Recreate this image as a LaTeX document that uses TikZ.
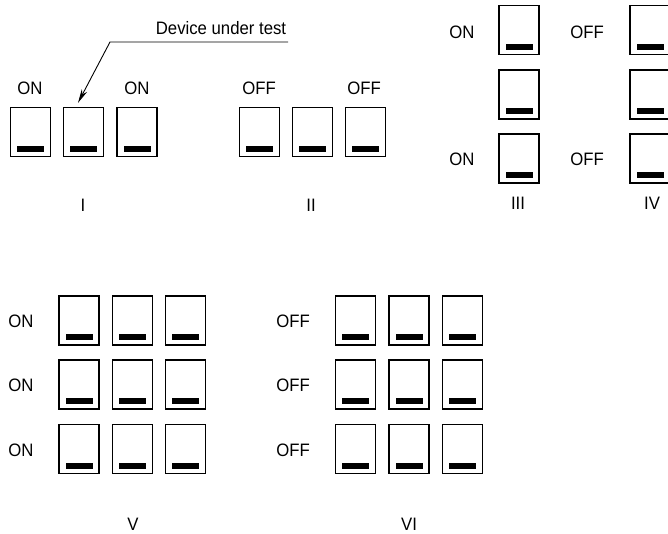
\documentclass[tikz,border=0pt]{standalone}
\usepackage{fontspec}
\setmainfont{Liberation Sans}[FakeStretch=0.93]
\usetikzlibrary{arrows.meta,calc}
\tikzset{
  sw/.style={draw, line width=1.3pt, minimum width=40pt, minimum height=49pt, inner sep=0pt,
    path picture={\fill[black] ([xshift=-13.5pt,yshift=5pt]path picture bounding box.south) rectangle ([xshift=13.5pt,yshift=11pt]path picture bounding box.south);}},
  lbl/.style={font=\fontsize{18}{20}\selectfont, inner sep=0pt},
  lead/.style={line width=0.9pt}
}
\begin{document}
\begin{tikzpicture}[x=1pt,y=-1pt]
\useasboundingbox (0,0) rectangle (668,533);
\fill[white] (0,0) rectangle (668,533);
\clip (0,0) rectangle (668,533);
% Group I
\node[sw] (a1) at (30.5,132) {};
\node[sw] (a2) at (83.5,132) {};
\node[sw] (a3) at (137,132) {};
\node[lbl] (a1l) at (30,88) {ON};
\node[lbl] (a3l) at (137,88) {ON};
\node[lbl] (an) at (83,205) {I};
% Device under test
\node[lbl] (dut) at (221,28) {Device under test};
\coordinate (dutr) at (288,42);
\coordinate (bend) at (110,42);
\coordinate (tip) at ($(a2.north)+(-5.5,-4)$);
\draw[lead,-{Stealth[length=14pt,width=6pt]}] (dutr) -- (bend) -- (tip);
% Group II
\node[sw] (b1) at (259.5,132) {};
\node[sw] (b2) at (312.5,132) {};
\node[sw] (b3) at (365.5,132) {};
\node[lbl] (b1l) at (259,88) {OFF};
\node[lbl] (b3l) at (364,88) {OFF};
\node[lbl] (bn) at (311,205) {II};
% Group III
\node[sw] (c1) at (519,30) {};
\node[sw] (c2) at (519,94.5) {};
\node[sw] (c3) at (519,158.5) {};
\node[lbl] (c1l) at (462,32) {ON};
\node[lbl] (c3l) at (462,159) {ON};
\node[lbl] (cn) at (518,203) {III};
% Group IV
\node[sw] (d1) at (650,30) {};
\node[sw] (d2) at (650,94.5) {};
\node[sw] (d3) at (650,158.5) {};
\node[lbl] (d1l) at (587,32) {OFF};
\node[lbl] (d3l) at (587,159) {OFF};
\node[lbl] (dn) at (652,203) {IV};
% Groups V and VI
\foreach \r/\y in {1/320.5,2/384.5,3/449}{
  \node[sw] (e\r1) at (79,\y) {};
  \node[sw] (e\r2) at (132.5,\y) {};
  \node[sw] (e\r3) at (185.5,\y) {};
  \node[lbl] (e\r l) at (21,\y+1) {ON};
  \node[sw] (f\r1) at (355.5,\y) {};
  \node[sw] (f\r2) at (409,\y) {};
  \node[sw] (f\r3) at (462.5,\y) {};
  \node[lbl] (f\r l) at (293,\y+1) {OFF};
}
\node[lbl] (en) at (133,524) {V};
\node[lbl] (fn) at (409,524) {VI};
\end{tikzpicture}
\end{document}
